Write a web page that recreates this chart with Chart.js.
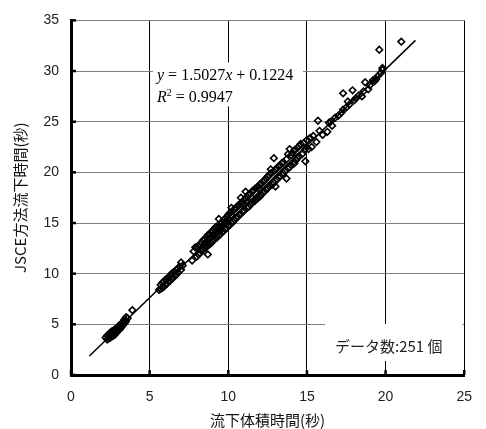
<!DOCTYPE html>
<html><head><meta charset="utf-8">
<script src="https://cdn.jsdelivr.net/npm/chart.js@4"></script>
<style>html,body{margin:0;padding:0;background:#fff;}#wrap{width:486px;height:429px;position:relative;}</style>
</head><body><div id="wrap"><canvas id="c" width="486" height="429"></canvas></div>
<script>
const xTitle = '流下体積時間(秒)';
const yTitle = 'JSCE方法流下時間(秒)';
const xTicks = [0, 5, 10, 15, 20, 25];
const yTicks = [0, 5, 10, 15, 20, 25, 30, 35];
const slope = 1.5027;
const intercept = 0.1224;
const rSquared = 0.9947;
const fitRange = [1.17, 21.9];
const sampleCount = 251;
const measurements = [
  [2.2,3.7],[2.3,3.9],[2.3,3.5],[2.4,4.0],[2.4,3.6],[2.5,4.2],[2.5,3.7],[2.5,4.0],[2.6,4.3],[2.6,3.8],[2.6,4.1],[2.7,4.4],[2.7,3.9],[2.7,4.2],[2.8,4.5],[2.8,4.0],[2.8,4.3],[2.9,4.6],[2.9,4.2],[3.0,4.8],[3.0,4.4],[3.0,4.6],[3.1,4.9],[3.1,4.5],[3.2,5.1],[3.2,4.7],[3.3,5.2],[3.3,4.9],[3.4,5.5],[3.4,5.1],[3.5,5.7],[3.5,5.3],[3.6,5.6],[3.9,6.4],
  [5.6,8.4],[5.7,8.9],[5.7,8.5],[5.8,9.1],[5.8,8.6],[5.9,9.2],[5.9,8.7],[6.0,9.4],[6.0,8.9],[6.1,9.5],[6.1,9.0],[6.2,9.6],[6.2,9.2],[6.3,9.8],[6.3,9.3],[6.4,10.0],[6.4,9.5],[6.5,10.1],[6.5,9.6],[6.6,10.2],[6.6,9.8],[6.7,10.4],[6.7,9.9],[6.8,10.5],[6.8,10.1],[6.9,10.7],[7.0,10.4],[7.0,11.1],[7.1,10.8],
  [7.7,11.3],[7.8,12.2],[7.9,12.6],[8.0,11.7],[8.0,12.6],[8.1,12.7],[8.1,11.9],[8.2,12.9],[8.2,12.0],[8.3,12.3],[8.3,13.1],[8.4,12.4],[8.4,13.3],[8.5,12.5],[8.5,13.4],[8.5,12.9],[8.6,13.6],[8.6,12.6],[8.7,11.9],[8.7,13.8],[8.7,12.8],[8.8,13.9],[8.8,12.9],[8.8,13.5],[8.9,14.1],[8.9,13.0],[9.0,14.2],[9.0,13.2],[9.0,13.8],[9.1,14.4],[9.1,13.4],[9.1,13.9],[9.2,14.6],[9.2,13.5],[9.2,14.1],[9.3,14.7],[9.3,13.6],[9.4,15.4],[9.4,13.8],[9.4,14.6],[9.4,14.2],[9.5,14.9],[9.5,13.9],[9.5,14.5],[9.6,15.1],[9.6,14.1],[9.6,14.7],[9.7,15.3],[9.7,14.2],[9.8,15.4],[9.8,14.4],[9.8,15.0],[9.9,15.6],[9.9,14.5],[10.0,15.8],[10.0,14.7],[10.0,15.3],[10.1,16.0],[10.1,14.8],[10.2,15.0],[10.2,16.5],[10.2,15.8],[10.3,16.2],[10.3,15.1],[10.4,16.4],[10.4,15.3],[10.5,16.5],[10.5,15.5],
  [10.6,16.7],[10.6,15.6],[10.7,16.8],[10.7,15.8],[10.8,16.9],[10.8,17.5],[10.8,15.9],[10.9,17.1],[10.9,16.1],[11.0,17.3],[11.0,16.2],[11.0,16.8],[11.1,17.4],[11.1,18.1],[11.2,17.6],[11.2,16.5],[11.2,17.1],[11.3,17.8],[11.3,16.6],[11.4,17.9],[11.4,16.8],[11.5,18.1],[11.5,17.0],[11.5,17.5],[11.6,18.2],[11.6,17.1],[11.7,18.4],[11.7,17.2],[11.8,18.5],[11.8,17.4],[11.9,18.6],[11.9,17.5],[12.0,18.8],[12.0,17.6],[12.0,18.3],[12.1,18.9],[12.1,17.8],[12.2,19.1],[12.2,18.0],[12.3,19.2],[12.3,18.1],[12.4,19.4],[12.4,18.3],[12.5,19.6],[12.5,18.4],[12.6,19.7],[12.6,18.6],[12.7,19.9],[12.7,20.3],[12.8,18.8],[12.9,21.4],[12.9,20.1],[12.9,19.0],[13.0,20.3],[13.0,18.6],[13.1,20.4],[13.1,19.3],[13.2,20.6],[13.2,19.5],[13.3,20.7],[13.3,19.6],[13.4,20.9],[13.5,19.9],[13.5,21.0],[13.6,20.1],[13.7,19.4],
  [13.7,21.3],[13.8,20.4],[13.8,21.8],[13.9,22.3],[13.9,20.5],[14.0,21.7],[14.0,20.7],[14.1,21.9],[14.2,20.9],[14.2,22.2],[14.3,21.2],[14.4,22.4],[14.4,21.4],[14.5,22.6],[14.5,21.6],[14.6,22.8],[14.7,21.8],[14.8,22.9],[14.9,21.1],[14.9,22.3],[15.0,23.2],[15.1,22.3],[15.2,23.4],[15.3,22.5],[15.4,23.6],[15.6,23.0],[15.7,25.1],[15.8,24.1],[16.0,23.7],[16.3,24.0],[16.4,24.9],
  [16.5,25.0],[16.6,24.6],[16.8,25.4],[17.0,25.6],[17.2,25.9],[17.3,26.2],[17.3,27.8],[17.5,26.4],[17.6,27.0],[17.7,26.7],[17.9,28.1],[18.0,27.1],[18.1,27.3],[18.3,27.6],[18.5,27.5],[18.6,28.0],[18.7,28.9],[18.9,28.2],[19.0,28.6],[19.2,29.1],[19.3,29.0],[19.4,29.2],[19.5,29.5],[19.6,32.1],[19.7,29.8],[19.8,30.1],[19.8,30.3],[21.0,32.9]
];

const LAT = '"Liberation Sans", Arial, sans-serif';
const CJK = '"Noto Sans CJK JP", "Liberation Sans", sans-serif';
const SERIF = '"Liberation Serif", "Times New Roman", serif';

function drawRuns(ctx, x, y, runs, size) {
  let cx = x;
  runs.forEach(r => {
    const fs = r.sup ? Math.round(size * 0.62) : size;
    ctx.font = (r.i ? 'italic ' : '') + fs + 'px ' + SERIF;
    ctx.fillText(r.t, cx, r.sup ? y - size * 0.42 : y);
    cx += ctx.measureText(r.t).width;
  });
}

const overlay = {
  id: 'overlay',
  beforeDatasetsDraw(chart) {
    const {ctx, chartArea: a, scales: {x, y}} = chart;
    ctx.save();
    ctx.strokeStyle = '#000';
    ctx.lineWidth = 2.5;
    xTicks.forEach(v => {
      const px = x.getPixelForValue(v);
      ctx.beginPath(); ctx.moveTo(px, a.bottom); ctx.lineTo(px, a.bottom - 5); ctx.stroke();
    });
    yTicks.forEach(v => {
      const py = y.getPixelForValue(v);
      ctx.beginPath(); ctx.moveTo(a.left, py); ctx.lineTo(a.left + 5, py); ctx.stroke();
    });
    ctx.fillStyle = '#fff';
    ctx.fillRect(a.left + 82, a.top + 42, 150, 44);
    ctx.fillStyle = '#000';
    ctx.textBaseline = 'alphabetic';
    ctx.textAlign = 'left';
    drawRuns(ctx, a.left + 86, a.top + 60, [
      {t: 'y', i: true}, {t: ' = ' + slope.toFixed(4)}, {t: 'x', i: true}, {t: ' + ' + intercept.toFixed(4)}
    ], 16);
    drawRuns(ctx, a.left + 86, a.top + 82, [
      {t: 'R', i: true}, {t: '2', sup: true}, {t: ' = ' + rSquared.toFixed(4)}
    ], 16);
    ctx.fillStyle = '#fff';
    ctx.fillRect(a.left + 254, a.bottom - 51, a.right - a.left - 256, 37);
    ctx.fillStyle = '#222';
    ctx.font = '15px ' + CJK;
    ctx.textBaseline = 'middle';
    ctx.fillText('データ数:' + sampleCount + ' 個', a.left + 264, a.bottom - 29);
    ctx.restore();
  }
};

new Chart(document.getElementById('c'), {
  type: 'scatter',
  data: {
    datasets: [
      {
        type: 'line',
        data: fitRange.map(v => ({x: v, y: slope * v + intercept})),
        borderColor: '#000', borderWidth: 1.5, pointRadius: 0, fill: false, order: 0
      },
      {
        data: measurements.map(p => ({x: p[0], y: p[1]})),
        pointStyle: 'rectRot', pointRadius: 3.3, borderWidth: 1.6,
        borderColor: '#000', backgroundColor: 'rgba(255,255,255,0)', order: 1
      }
    ]
  },
  options: {
    responsive: false, animation: false, devicePixelRatio: 1,
    layout: {padding: {top: 18, right: 9, left: 0, bottom: 0}},
    plugins: {legend: {display: false}, tooltip: {enabled: false}},
    scales: {
      x: {
        type: 'linear', min: 0, max: 25,
        afterBuildTicks: s => { s.ticks = xTicks.map(v => ({value: v})); },
        afterFit: s => { s.height = 54; },
        ticks: {font: {family: LAT, size: 14}, color: '#222', padding: 14, maxRotation: 0},
        grid: {color: '#000', lineWidth: 1, drawTicks: false},
        border: {color: '#000', width: 3},
        title: {display: true, text: xTitle, font: {family: CJK, size: 15}, color: '#111', padding: {top: 0, bottom: 0}}
      },
      y: {
        type: 'linear', min: 0, max: 35,
        afterBuildTicks: s => { s.ticks = yTicks.map(v => ({value: v})); },
        afterFit: s => { s.width = 71; },
        ticks: {font: {family: LAT, size: 14}, color: '#222', padding: 12},
        grid: {color: '#808080', lineWidth: 1, drawTicks: false},
        border: {color: '#000', width: 3},
        title: {display: true, text: yTitle, font: {family: CJK, size: 15}, color: '#111', padding: {top: 11, bottom: 0}}
      }
    }
  },
  plugins: [overlay]
});
</script></body></html>
